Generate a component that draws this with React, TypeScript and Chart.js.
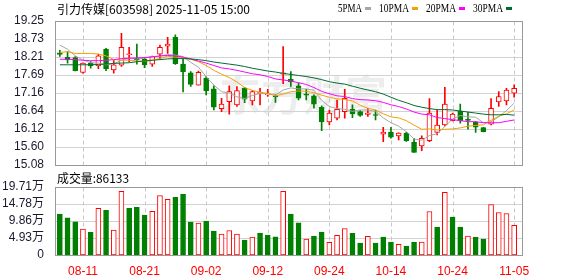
import { useEffect, useRef } from "react";
import { Chart, registerables } from "chart.js";

Chart.register(...registerables);

const stockTitle = "引力传媒[603598] 2025-11-05 15:00";

const dates = [
  "08-06", "08-07", "08-08", "08-11", "08-12", "08-13", "08-14", "08-15", "08-18", "08-19",
  "08-20", "08-21", "08-22", "08-25", "08-26", "08-27", "08-28", "08-29", "09-01", "09-02",
  "09-03", "09-04", "09-05", "09-08", "09-09", "09-10", "09-11", "09-12", "09-15", "09-16",
  "09-17", "09-18", "09-19", "09-22", "09-23", "09-24", "09-25", "09-26", "09-29", "09-30",
  "10-09", "10-10", "10-13", "10-14", "10-15", "10-16", "10-17", "10-20", "10-21", "10-22",
  "10-23", "10-24", "10-27", "10-28", "10-29", "10-30", "10-31", "11-03", "11-04", "11-05",
];

const xTickLabels = ["08-11", "08-21", "09-02", "09-12", "09-24", "10-14", "10-24", "11-05"];

const opens = [
  18.33, 18.20, 18.19, 17.76, 18.03, 17.95, 18.43, 17.83, 17.97, 18.27,
  18.17, 18.14, 18.00, 18.29, 18.52, 18.78, 18.00, 17.75, 17.39, 17.59,
  17.28, 16.71, 16.91, 16.82, 17.30, 16.93, 17.15, 17.11, 17.07, 17.71,
  17.56, 17.37, 17.13, 17.08, 16.75, 16.32, 16.43, 16.62, 16.69, 16.62,
  16.54, 16.53, 15.97, 16.03, 15.92, 16.00, 15.73, 15.63, 15.78, 16.02,
  16.24, 16.36, 16.63, 16.39, 16.32, 16.16, 16.26, 16.90, 16.93, 17.16,
];
const highs = [
  18.40, 18.36, 18.22, 18.04, 18.07, 18.29, 18.46, 18.10, 18.89, 18.49,
  18.58, 18.20, 18.23, 18.55, 18.78, 18.85, 18.14, 17.78, 17.80, 17.64,
  17.37, 17.01, 17.37, 17.35, 17.33, 17.23, 17.30, 17.27, 17.11, 18.51,
  17.78, 17.45, 17.27, 17.11, 16.79, 16.67, 16.96, 17.27, 16.82, 16.65,
  16.72, 16.67, 16.17, 16.17, 16.01, 16.02, 15.85, 15.92, 17.00, 16.67,
  17.33, 16.58, 16.84, 16.60, 16.33, 16.17, 17.00, 17.20, 17.30, 17.40,
];
const lows = [
  18.22, 18.03, 17.80, 17.74, 17.88, 17.87, 17.81, 17.74, 17.93, 18.07,
  18.00, 17.90, 17.93, 18.14, 18.31, 17.99, 17.19, 17.35, 17.39, 17.11,
  16.67, 16.62, 16.55, 16.77, 16.88, 16.82, 16.82, 17.06, 16.89, 17.43,
  17.35, 16.96, 16.96, 16.72, 16.07, 16.24, 16.38, 16.43, 16.45, 16.48,
  16.48, 16.38, 15.75, 15.85, 15.80, 15.76, 15.44, 15.49, 15.75, 15.95,
  16.21, 16.35, 16.29, 16.11, 16.02, 16.03, 16.24, 16.77, 16.82, 17.04,
];
const closes = [
  18.28, 18.12, 17.81, 18.03, 17.95, 18.24, 17.87, 17.98, 18.49, 18.29,
  18.13, 17.98, 18.22, 18.49, 18.58, 18.01, 17.78, 17.41, 17.76, 17.23,
  16.75, 16.84, 17.20, 17.23, 16.98, 17.20, 17.15, 17.12, 17.05, 17.75,
  17.48, 17.01, 17.10, 16.84, 16.32, 16.58, 16.69, 17.01, 16.56, 16.51,
  16.58, 16.51, 16.03, 15.88, 16.00, 15.78, 15.44, 15.85, 16.58, 16.23,
  16.84, 16.55, 16.36, 16.37, 16.17, 16.04, 16.72, 17.06, 17.25, 17.30,
];

const ma5 = [
  18.55, 18.43, 18.24, 18.12, 18.04, 18.03, 17.98, 18.01, 18.11, 18.17,
  18.15, 18.17, 18.22, 18.22, 18.28, 18.26, 18.22, 18.05, 17.91, 17.64,
  17.39, 17.20, 17.16, 17.05, 17.00, 17.09, 17.15, 17.14, 17.10, 17.25,
  17.31, 17.28, 17.28, 17.24, 16.95, 16.77, 16.71, 16.69, 16.63, 16.67,
  16.67, 16.63, 16.44, 16.30, 16.20, 16.04, 15.83, 15.79, 15.93, 15.98,
  16.19, 16.41, 16.51, 16.47, 16.46, 16.30, 16.33, 16.47, 16.65, 16.87,
];
const ma10 = [
  18.34, 18.36, 18.31, 18.31, 18.31, 18.29, 18.24, 18.13, 18.12, 18.11,
  18.09, 18.08, 18.12, 18.16, 18.23, 18.20, 18.20, 18.14, 18.07, 17.96,
  17.82, 17.71, 17.61, 17.48, 17.32, 17.24, 17.18, 17.15, 17.08, 17.13,
  17.20, 17.22, 17.21, 17.17, 17.10, 17.04, 16.99, 16.98, 16.93, 16.81,
  16.72, 16.67, 16.56, 16.47, 16.44, 16.36, 16.23, 16.11, 16.12, 16.09,
  16.11, 16.12, 16.15, 16.20, 16.22, 16.24, 16.37, 16.49, 16.56, 16.67,
];
const ma20 = [
  18.14, 18.14, 18.13, 18.11, 18.10, 18.10, 18.11, 18.13, 18.16, 18.17,
  18.18, 18.19, 18.21, 18.24, 18.25, 18.24, 18.20, 18.15, 18.09, 18.03,
  17.96, 17.89, 17.86, 17.82, 17.77, 17.72, 17.69, 17.64, 17.57, 17.54,
  17.51, 17.46, 17.41, 17.32, 17.21, 17.14, 17.08, 17.06, 17.00, 16.97,
  16.96, 16.94, 16.89, 16.82, 16.77, 16.70, 16.61, 16.55, 16.53, 16.45,
  16.42, 16.39, 16.36, 16.33, 16.33, 16.30, 16.30, 16.30, 16.34, 16.38,
];
const ma30 = [
  17.98, 17.98, 17.98, 17.98, 17.98, 17.99, 18.00, 18.02, 18.03, 18.04,
  18.07, 18.09, 18.11, 18.13, 18.15, 18.16, 18.16, 18.15, 18.13, 18.10,
  18.06, 18.03, 18.00, 17.97, 17.93, 17.88, 17.84, 17.80, 17.77, 17.73,
  17.70, 17.67, 17.64, 17.60, 17.55, 17.49, 17.45, 17.42, 17.36, 17.30,
  17.25, 17.20, 17.13, 17.04, 16.95, 16.88, 16.80, 16.75, 16.71, 16.68,
  16.68, 16.67, 16.64, 16.61, 16.58, 16.55, 16.53, 16.53, 16.54, 16.52,
];

const volumes = [
  118300, 107700, 96000, 75000, 66000, 135600, 129800, 72000, 184700, 135600,
  138500, 115400, 126900, 172200, 161600, 167300, 176000, 95200, 92300, 98100,
  69200, 60600, 71100, 60600, 43300, 51900, 63500, 57700, 52900, 184700,
  118300, 93300, 46200, 54800, 66300, 36600, 56700, 76900, 62500, 34600,
  53800, 34600, 51900, 37500, 30800, 26000, 37500, 37500, 126000, 80800,
  181800, 109600, 80800, 54800, 51900, 46200, 146300, 123100, 120200, 86133,
];

const priceTicks = [19.25, 18.73, 18.21, 17.69, 17.16, 16.64, 16.12, 15.6, 15.08];
const volTickValues = [0, 49275, 98550, 147825, 197100];
const volTickLabels = ["0", "4.93万", "9.86万", "14.78万", "19.71万"];

const maNames = ["5PMA", "10PMA", "20PMA", "30PMA"];
const maColors = ["#a6a6a6", "#f2a100", "#ff00ff", "#006b30"];

const RED = "#ff0000";
const GREEN = "#008000";
const AXIS_FONT = { family: '"Liberation Sans", Arial, sans-serif', size: 12 };
const CJK_FONT = '"Noto Sans CJK SC", "Liberation Sans", sans-serif';

function makeGridPlugin(yTicks: number[], watermark: boolean) {
  return {
    id: "customGrid",
    beforeDatasetsDraw(chart: any) {
      const { ctx, chartArea: a, scales } = chart;
      const xs = scales.x;
      const ys = scales.y;
      const L = Math.round(a.left) - 0.5;
      const R = Math.round(a.right) + 4.5;
      const T = Math.round(a.top) + 0.5;
      const B = Math.round(a.bottom) + 0.5;
      ctx.save();
      if (watermark) {
        ctx.font = `bold 42px ${CJK_FONT}`;
        ctx.fillStyle = "rgba(0,0,0,0.07)";
        ctx.textAlign = "center";
        ctx.textBaseline = "middle";
        ctx.fillText("东方财富", (L + R) / 2 + 14, (T + B) / 2 + 2);
      }
      ctx.lineWidth = 1;
      ctx.strokeStyle = "#d2d2d2";
      ctx.setLineDash([]);
      yTicks.forEach((v) => {
        const py = Math.round(ys.getPixelForValue(v)) + 0.5;
        if (py <= T + 1 || py >= B - 1) return;
        ctx.beginPath();
        ctx.moveTo(L, py);
        ctx.lineTo(R, py);
        ctx.stroke();
      });
      ctx.strokeStyle = "#c8c8c8";
      ctx.setLineDash([4, 3]);
      dates.forEach((d, i) => {
        if (!xTickLabels.includes(d)) return;
        const px = Math.round(xs.getPixelForValue(i)) + 0.5;
        ctx.beginPath();
        ctx.moveTo(px, T);
        ctx.lineTo(px, B);
        ctx.stroke();
      });
      ctx.setLineDash([]);
      ctx.strokeStyle = "#999999";
      ctx.strokeRect(L, T, R - L, B - T);
      ctx.restore();
    },
  };
}

const priceTextPlugin = {
  id: "priceText",
  afterDraw(chart: any) {
    const { ctx } = chart;
    ctx.save();
    ctx.textBaseline = "middle";
    ctx.textAlign = "left";
    ctx.fillStyle = "#000";
    ctx.font = `12px ${CJK_FONT}`;
    ctx.fillText(stockTitle, 57, 9, 195);
    let x = 338;
    ctx.font = '13px "Liberation Serif", serif';
    maNames.forEach((name, i) => {
      const w = name.length * 6;
      ctx.fillStyle = "#000";
      ctx.fillText(name, x, 9, w);
      x += w + 3;
      ctx.fillStyle = maColors[i];
      ctx.fillRect(x, 7, 6, 3);
      x += 6 + 8;
    });
    ctx.restore();
  },
};

const volTextPlugin = {
  id: "volText",
  afterDraw(chart: any) {
    const { ctx } = chart;
    ctx.save();
    ctx.textBaseline = "middle";
    ctx.textAlign = "left";
    ctx.fillStyle = "#000";
    ctx.font = `12px ${CJK_FONT}`;
    ctx.fillText(`成交量:${volumes[volumes.length - 1]}`, 57, 8, 72);
    ctx.restore();
  },
};

export default function App() {
  const priceRef = useRef<HTMLCanvasElement>(null);
  const volRef = useRef<HTMLCanvasElement>(null);

  useEffect(() => {
    const candleColors = closes.map((c, i) => (c >= opens[i] ? RED : GREEN));
    const bodyFill = closes.map((c, i) => (c >= opens[i] ? "#ffffff" : GREEN));
    const volUp = closes.map((c, i) => (i === 0 ? c >= opens[i] : c >= closes[i - 1]));

    const priceChart = new Chart(priceRef.current!, {
      type: "bar",
      data: {
        labels: dates,
        datasets: [
          {
            type: "bar",
            label: "wick",
            data: lows.map((l, i) => [l, highs[i]]) as any,
            backgroundColor: candleColors,
            borderWidth: 0,
            barThickness: 1,
            grouped: false,
            order: 10,
          },
          {
            type: "bar",
            label: "body",
            data: opens.map((o, i) => [Math.min(o, closes[i]), Math.max(o, closes[i])]) as any,
            backgroundColor: bodyFill,
            borderColor: candleColors,
            borderWidth: 1,
            borderSkipped: false,
            barThickness: 5,
            minBarLength: 1,
            grouped: false,
            order: 9,
          },
          ...[ma5, ma10, ma20, ma30].map((d, i) => ({
            type: "line" as const,
            label: maNames[i],
            data: d,
            borderColor: maColors[i],
            borderWidth: 1,
            pointRadius: 0,
            tension: 0,
            fill: false,
            order: 4 - i,
          })),
        ] as any,
      },
      options: {
        animation: false,
        responsive: false,
        devicePixelRatio: 1,
        events: [],
        layout: { padding: { left: 0, right: 60, top: 21, bottom: 11 } },
        plugins: {
          legend: { display: false },
          tooltip: { enabled: false },
          title: { display: false },
        },
        scales: {
          x: { type: "category", offset: true, display: false },
          y: {
            type: "linear",
            position: "left",
            min: 15.08,
            max: 19.25,
            afterBuildTicks: (scale: any) => {
              scale.ticks = priceTicks.map((v) => ({ value: v }));
            },
            afterFit: (scale: any) => {
              scale.width = 56;
            },
            grid: { display: false },
            border: { display: false },
            ticks: {
              autoSkip: false,
              font: AXIS_FONT,
              color: "#1a1a2e",
              padding: 4,
              callback: (v: any) => Number(v).toFixed(2),
            },
          },
        },
      } as any,
      plugins: [makeGridPlugin(priceTicks, true), priceTextPlugin],
    });

    const volChart = new Chart(volRef.current!, {
      type: "bar",
      data: {
        labels: dates,
        datasets: [
          {
            label: "volume",
            data: volumes,
            backgroundColor: volUp.map((u) => (u ? "#ffffff" : GREEN)),
            borderColor: volUp.map((u) => (u ? RED : GREEN)),
            borderWidth: 1,
            borderSkipped: false,
            barThickness: 5,
          },
        ],
      },
      options: {
        animation: false,
        responsive: false,
        devicePixelRatio: 1,
        events: [],
        layout: { padding: { left: 0, right: 60, top: 17, bottom: 0 } },
        plugins: {
          legend: { display: false },
          tooltip: { enabled: false },
          title: { display: false },
        },
        scales: {
          x: {
            type: "category",
            offset: true,
            position: "bottom",
            afterFit: (scale: any) => {
              scale.height = 21;
            },
            grid: { display: false },
            border: { display: false },
            ticks: {
              autoSkip: false,
              maxRotation: 0,
              minRotation: 0,
              font: AXIS_FONT,
              color: RED,
              padding: 1,
              callback: (_v: any, i: number) => (xTickLabels.includes(dates[i]) ? dates[i] : ""),
            },
          },
          y: {
            type: "linear",
            position: "left",
            min: 0,
            max: 197100,
            afterBuildTicks: (scale: any) => {
              scale.ticks = volTickValues.map((v) => ({ value: v }));
            },
            afterFit: (scale: any) => {
              scale.width = 56;
            },
            grid: { display: false },
            border: { display: false },
            ticks: {
              autoSkip: false,
              font: { family: '"Liberation Sans", "Noto Sans CJK SC", Arial, sans-serif', size: 12 },
              color: "#1a1a2e",
              padding: 4,
              callback: (_v: any, i: number) => volTickLabels[i],
            },
          },
        },
      } as any,
      plugins: [makeGridPlugin(volTickValues, false), volTextPlugin],
    });

    return () => {
      priceChart.destroy();
      volChart.destroy();
    };
  }, []);

  return (
    <div
      style={{
        position: "fixed",
        left: 0,
        top: 0,
        width: 578,
        height: 276,
        background: "#ffffff",
        overflow: "hidden",
      }}
    >
      <canvas ref={priceRef} width={578} height={176} style={{ position: "absolute", left: 0, top: 0 }} />
      <canvas ref={volRef} width={578} height={106} style={{ position: "absolute", left: 0, top: 170 }} />
    </div>
  );
}
